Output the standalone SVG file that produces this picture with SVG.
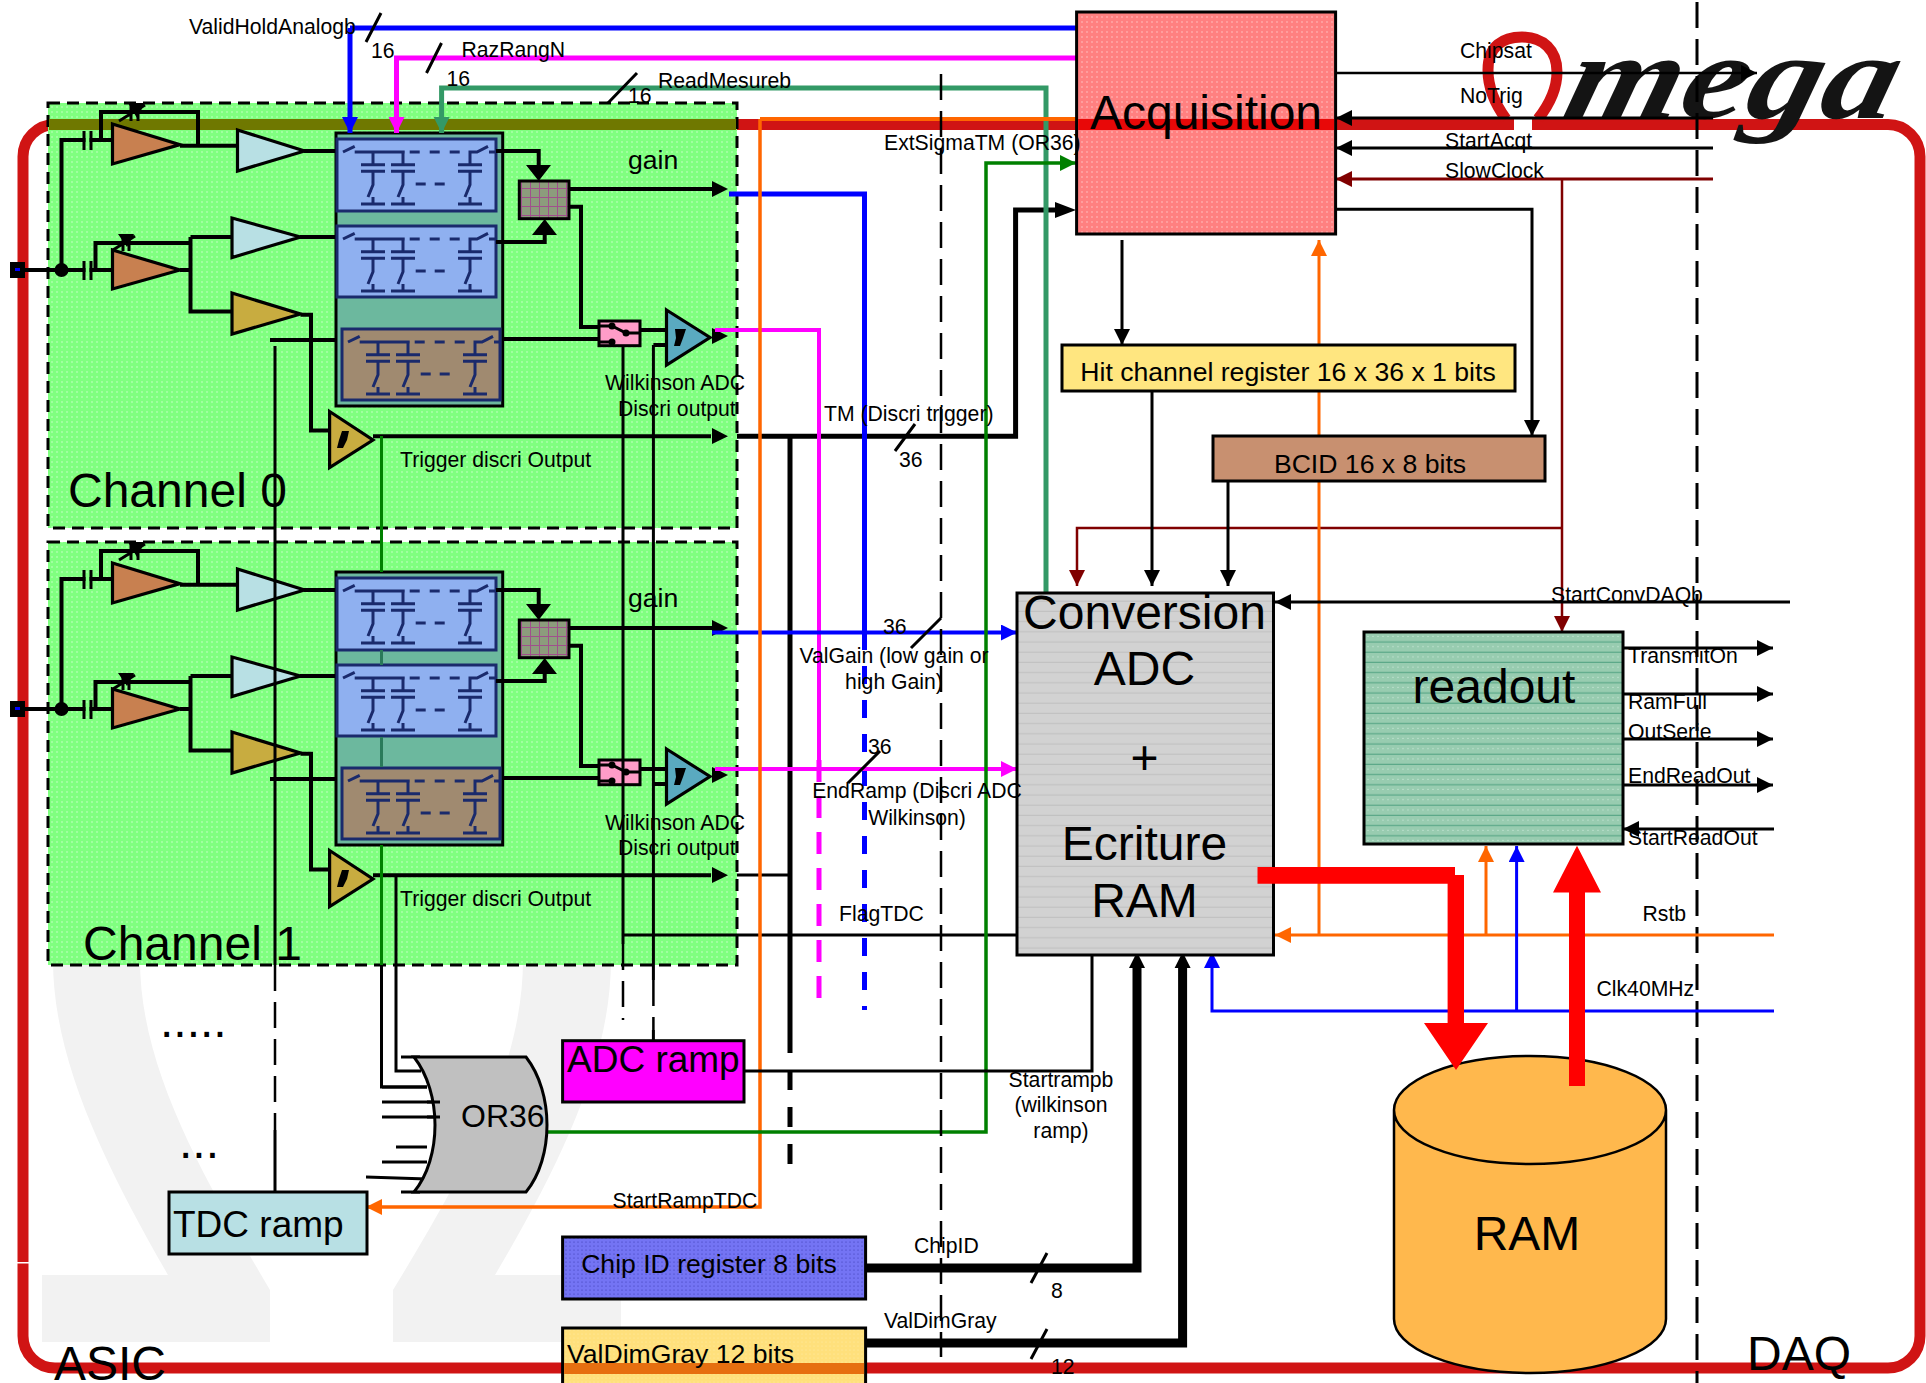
<svg xmlns="http://www.w3.org/2000/svg" xmlns:xlink="http://www.w3.org/1999/xlink" width="1926" height="1383" viewBox="0 0 1926 1383">
<style>
text{font-family:"Liberation Sans",Arial,sans-serif;fill:#000}
.s21{font-size:21.2px}.s26{font-size:26.6px}.s37{font-size:37px}.s48{font-size:48px}
.m{text-anchor:middle}
.w{fill:none;stroke:#000;stroke-width:4}
.t{fill:none;stroke:#000;stroke-width:2.5}
.sl{stroke:#000;stroke-width:3;fill:none}
.dash{fill:none;stroke:#000;stroke-width:3;stroke-dasharray:26 11}
.amp{stroke:#000;stroke-width:3.2;stroke-linejoin:miter}
.bx{stroke:#000;stroke-width:3}
.bank{fill:none;stroke:#1a2a6c;stroke-width:3}
</style>
<defs>
<pattern id="dg" width="5" height="5" patternUnits="userSpaceOnUse"><rect width="5" height="5" fill="#80ff80"/><circle cx="2" cy="2" r=".7" fill="#d8ffd8"/></pattern>
<pattern id="dp" width="5" height="5" patternUnits="userSpaceOnUse"><rect width="5" height="5" fill="#ff8080"/><circle cx="2" cy="2" r=".7" fill="#ffd0d0"/></pattern>
<pattern id="dv" width="4" height="4" patternUnits="userSpaceOnUse"><rect width="4" height="4" fill="#7474f4"/><circle cx="2" cy="2" r=".6" fill="#3838b0"/></pattern>
<pattern id="dy" width="4" height="4" patternUnits="userSpaceOnUse"><rect width="4" height="4" fill="#ffe07c"/><circle cx="2" cy="2" r=".5" fill="#ffefb0"/></pattern>
<pattern id="dr" width="10" height="10.2" patternUnits="userSpaceOnUse"><rect width="10" height="10.2" fill="#98ccb0"/><rect y="9" width="10" height="1.2" fill="#5aa888"/><circle cx="3" cy="4" r=".6" fill="#d8f0e4"/><circle cx="8" cy="4" r=".6" fill="#d8f0e4"/></pattern>
<pattern id="dc" width="10" height="10.2" patternUnits="userSpaceOnUse"><rect width="10" height="10.2" fill="#d2d2d2"/><rect y="9" width="10" height="1.2" fill="#c2c2c2"/></pattern>
<pattern id="gr" width="9" height="9" patternUnits="userSpaceOnUse"><rect width="9" height="9" fill="#8c9c7c"/><path d="M8.5 0V9M0 8.5H9" stroke="#a0508c" stroke-width="1"/></pattern>
<marker id="ak" viewBox="0 0 10 10" refX="10" refY="5" markerWidth="16" markerHeight="16" markerUnits="userSpaceOnUse" orient="auto"><path d="M0 0L10 5L0 10Z" fill="#000"/></marker>
<marker id="ab" viewBox="0 0 10 10" refX="10" refY="5" markerWidth="16" markerHeight="16" markerUnits="userSpaceOnUse" orient="auto"><path d="M0 0L10 5L0 10Z" fill="#0000ff"/></marker>
<marker id="am" viewBox="0 0 10 10" refX="10" refY="5" markerWidth="16" markerHeight="16" markerUnits="userSpaceOnUse" orient="auto"><path d="M0 0L10 5L0 10Z" fill="#ff00ff"/></marker>
<marker id="as" viewBox="0 0 10 10" refX="10" refY="5" markerWidth="16" markerHeight="16" markerUnits="userSpaceOnUse" orient="auto"><path d="M0 0L10 5L0 10Z" fill="#339966"/></marker>
<marker id="ag" viewBox="0 0 10 10" refX="10" refY="5" markerWidth="16" markerHeight="16" markerUnits="userSpaceOnUse" orient="auto"><path d="M0 0L10 5L0 10Z" fill="#008000"/></marker>
<marker id="ao" viewBox="0 0 10 10" refX="10" refY="5" markerWidth="16" markerHeight="16" markerUnits="userSpaceOnUse" orient="auto"><path d="M0 0L10 5L0 10Z" fill="#ff6600"/></marker>
<marker id="ad" viewBox="0 0 10 10" refX="10" refY="5" markerWidth="16" markerHeight="16" markerUnits="userSpaceOnUse" orient="auto"><path d="M0 0L10 5L0 10Z" fill="#800000"/></marker>
<g id="bank">
<path class="bank" d="M6 13L17.700 7.300M17.700 13H67.700M36 13V25.700M66 13V25.700M133 25.700V13H140L151 7.300M152 13H158"/>
<path class="bank" d="M72.700 13H125" stroke-dasharray="10 10"/>
<path class="bank" d="M24 25.700H48M24 32.300H48M54 25.700H78M54 32.300H78M121 25.700H145M121 32.300H145"/>
<path class="bank" d="M36 32.300V45.700L31 58M66 32.300V45.700L61 58M133 32.300V45.700L128 58M36 58V65M66 58V65M133 58V65M24 65H48M54 65H78M121 65H145"/>
<path class="bank" d="M78.700 45H109" stroke-dasharray="10 9"/>
</g>
<g id="chanCore">
<path class="w" d="M25 270H112M61.500 270V140H112M101 140V112H198V145.700M95.500 270V243H190.500M180 145.700H237.500M180 270H190.500M190.500 237V311.600H232M190.500 237H232"/>
<path d="M85.500 135H89.500V145H85.500ZM85.500 265H89.500V275H85.500Z" fill="#80ff80"/>
<g stroke="#000" stroke-width="3" fill="none"><path d="M84 131V150M91 131V150M84 261V280M91 261V280"/><path d="M131 105V121M138 105V121M119 121L145 105M123 236V251M129 236V251M113 250L135 236"/></g>
<path d="M128 103H145L137 118ZM118 234H134L127 247Z" fill="#000"/>
<polygon class="amp" points="112.500,124 180,144.600 112.500,164" fill="#c88050"/>
<polygon class="amp" points="112.500,250 180,270 112.500,289" fill="#c88050"/>
<polygon class="amp" points="237.500,130 304.500,151 237.500,171" fill="#b8e0e4"/>
<polygon class="amp" points="232,218 300.500,237 232,257.500" fill="#b8e0e4"/>
<polygon class="amp" points="232,293 300.500,314 232,334" fill="#c8ac40"/>
<path class="w" d="M300.500 314.700H311V430.500H329.600M304 151H336M300 237H336M270 340H337"/>
<rect class="bx" x="336" y="133" width="166.700" height="273" fill="#6cb89e"/>
<rect x="337" y="139" width="159" height="72" fill="#8fb0f0" stroke="#1a2a6c" stroke-width="3"/>
<rect x="337" y="226" width="159" height="71" fill="#8fb0f0" stroke="#1a2a6c" stroke-width="3"/>
<rect x="342" y="329" width="158" height="71" fill="#a08a70" stroke="#1a2a6c" stroke-width="3"/>
<use xlink:href="#bank" href="#bank" x="337" y="139"/>
<use xlink:href="#bank" href="#bank" x="337" y="226"/>
<use xlink:href="#bank" href="#bank" x="342" y="329"/>
<path class="w" d="M496 151H538.700V165M496 242H544.700V235M569 206.700H581V327H599M502 339H599M640 330H666.500M653.400 345H666.500M373 436.300H711"/>
<path d="M526 165L538.700 181L551 165ZM532 235L544.700 219L557 235Z" fill="#000"/>
<rect x="519.300" y="181" width="49.700" height="37.700" fill="url(#gr)" stroke="#000" stroke-width="3"/>
<path d="M569 189H712" class="w"/>
<path d="M712 181L728 189L712 197ZM712 428L728 436.300L712 444ZM712 328L728 336L712 344Z" fill="#000"/>
<polygon class="amp" points="329.600,411.500 373,440 329.600,467.600" fill="#c8ac40"/>
<path d="M342 431H349L347 440L343 448H337L339 440Z" fill="#000"/>
<rect x="599" y="321" width="41" height="24.700" fill="#ff9cc8" stroke="#000" stroke-width="3"/>
<path d="M600 326H612L626 333H640M600 342H612" fill="none" stroke="#000" stroke-width="3"/>
<circle cx="612" cy="326" r="3.500"/><circle cx="612" cy="342" r="3.500"/><circle cx="626" cy="333" r="3.500"/>
<polygon class="amp" points="666.500,310 710,337.500 666.500,365" fill="#5aaac0"/>
<path d="M675 329H686L683 338L680 346H674L676 338Z" fill="#000"/>
<circle cx="61.500" cy="270" r="7" fill="#000"/>
<rect x="10" y="262" width="15" height="16" fill="#000"/><rect x="15" y="268" width="5" height="3" fill="#0000ff"/>
</g>
</defs>
<rect width="1926" height="1383" fill="#fff"/>
<g id="background">
<path d="M42 1275H168C105 1165 53 1060 53 960C53 780 170 640 332 640C494 640 611 780 611 960C611 1060 560 1165 495 1275H621V1342H393V1290C460 1180 523 1070 523 960C523 830 450 720 332 720C214 720 140 830 140 960C140 1070 205 1180 270 1290V1342H42Z" fill="#f2f2f2"/>
<rect x="23" y="124.500" width="1897" height="1243.500" rx="32" fill="none" stroke="#d01414" stroke-width="11"/>
<rect x="1514" y="117" width="18" height="15" fill="#fff"/>
<rect x="16" y="1262" width="13" height="1.500" fill="#fff"/>
<path d="M1506 119C1492 100 1488 85 1488 70C1488 46 1503 37 1522 37C1543 37 1557 50 1557 72C1557 90 1549 105 1538 119" fill="none" stroke="#d01414" stroke-width="11"/>
<text transform="translate(1560 118) skewX(-14)" x="0" y="0" font-size="122" font-weight="bold" font-style="italic" textLength="330" lengthAdjust="spacingAndGlyphs" style="font-family:'Liberation Serif',serif;fill:#141414">mega</text>
</g>
<g id="channel0">
<rect x="48" y="103" width="689" height="425" fill="url(#dg)" stroke="#000" stroke-width="3" stroke-dasharray="12 7"/>
<rect x="49" y="119" width="687" height="11" fill="#6f7800"/>
<use xlink:href="#chanCore" href="#chanCore"/>
<text class="s26" x="628" y="169">gain</text>
<text class="s21" x="605" y="390">Wilkinson ADC</text>
<text class="s21" x="618" y="415.500">Discri output</text>
<text class="s21" x="400" y="466.500">Trigger discri Output</text>
<text class="s48" x="68" y="507">Channel 0</text>
</g>
<g id="channel1">
<rect x="48" y="542" width="689" height="423" fill="url(#dg)" stroke="#000" stroke-width="3" stroke-dasharray="12 7"/>
<use xlink:href="#chanCore" href="#chanCore" y="439"/>
<text class="s26" x="628" y="607">gain</text>
<text class="s21" x="605" y="830">Wilkinson ADC</text>
<text class="s21" x="618" y="855">Discri output</text>
<text class="s21" x="400" y="906">Trigger discri Output</text>
<text class="s48" x="83" y="960">Channel 1</text>
</g>
<g id="connectors">
<path d="M381.500 436V572M381.500 845V965" fill="none" stroke="#008000" stroke-width="3"/>
<path d="M381.500 650V665M381.500 737V767" fill="none" stroke="#2a7a5a" stroke-width="3"/>
<path class="t" style="stroke-width:3" d="M381.500 965V1087H427M396 875V1071H421"/>
<path class="sl" d="M275 346V965M623 345V944M653.400 345V980M623 935H1017M737 875H790"/>
<path class="dash" style="stroke-width:2.500" d="M275 965V1130M623 944V1020M653.400 980V1030"/>
<path class="sl" d="M275 1130V1192M653.400 1030V1041"/>
<path d="M737 436.300H1015.600V210H1060" fill="none" stroke="#000" stroke-width="5"/>
<path d="M1055 202L1076 210L1055 218Z" fill="#000"/>
<path d="M790 436V1053" fill="none" stroke="#000" stroke-width="5"/>
<path d="M790 1070V1165" fill="none" stroke="#000" stroke-width="5" stroke-dasharray="20 17"/>
<path d="M350 28H1076M350 28V133" fill="none" stroke="#0000ff" stroke-width="5" marker-end="url(#ab)"/>
<path d="M1076 58H396.500V133" fill="none" stroke="#ff00ff" stroke-width="5" marker-end="url(#am)"/>
<path d="M1046 593V88H441.600V133" fill="none" stroke="#339966" stroke-width="5" marker-end="url(#as)"/>
<path d="M729 194H864.500V632" fill="none" stroke="#0000ff" stroke-width="5"/>
<path d="M864.500 632V1010" fill="none" stroke="#0000ff" stroke-width="5" stroke-dasharray="18 16"/>
<path d="M715 330H819V760" fill="none" stroke="#ff00ff" stroke-width="4"/>
<path d="M819 760V1010" fill="none" stroke="#ff00ff" stroke-width="5" stroke-dasharray="22 14"/>
<path d="M712 632.500H1017" fill="none" stroke="#0000ff" stroke-width="4" marker-end="url(#ab)"/>
<path d="M715 769H1017" fill="none" stroke="#ff00ff" stroke-width="4" marker-end="url(#am)"/>
<path d="M760 119H1076" fill="none" stroke="#ff6600" stroke-width="4"/>
<path d="M760 119V1207H366" fill="none" stroke="#ff6600" stroke-width="3.500" marker-end="url(#ao)"/>
<path d="M547 1132H986V163H1076" fill="none" stroke="#008000" stroke-width="3.500" marker-end="url(#ag)"/>
<path class="dash" style="stroke-width:2.500" d="M941 74V1357"/>
<path class="dash" d="M1697 2V1383"/>
<path d="M1336 73H1757" class="t" marker-end="url(#ak)"/>
<path d="M1713 118H1336" class="sl" marker-end="url(#ak)"/>
<path d="M1713 148H1336" class="sl" marker-end="url(#ak)"/>
<path d="M1713 179H1336" fill="none" stroke="#800000" stroke-width="3" marker-end="url(#ad)"/>
<path d="M1562 179V632" fill="none" stroke="#800000" stroke-width="2.500" marker-end="url(#ad)"/>
<path d="M1562 528H1077V586" fill="none" stroke="#800000" stroke-width="2.500" marker-end="url(#ad)"/>
<path d="M1336 209.300H1532V436" class="sl" marker-end="url(#ak)"/>
<path d="M1122 240V345" class="sl" marker-end="url(#ak)"/>
<path d="M1152 391V586" class="sl" marker-end="url(#ak)"/>
<path d="M1228 481V586" class="sl" marker-end="url(#ak)"/>
<path d="M1319 935V240" fill="none" stroke="#ff6600" stroke-width="3" marker-end="url(#ao)"/>
<path d="M1774 935H1275" fill="none" stroke="#ff6600" stroke-width="3" marker-end="url(#ao)"/>
<path d="M1486 935V846" fill="none" stroke="#ff6600" stroke-width="3" marker-end="url(#ao)"/>
<path d="M1774 1011H1212V952" fill="none" stroke="#0000ff" stroke-width="3" marker-end="url(#ab)"/>
<path d="M1516.600 1011V846" fill="none" stroke="#0000ff" stroke-width="3" marker-end="url(#ab)"/>
<path d="M1790 602H1275" class="sl" marker-end="url(#ak)"/>
<path d="M1623 648H1773" class="sl" marker-end="url(#ak)"/>
<path d="M1623 694H1773" class="sl" marker-end="url(#ak)"/>
<path d="M1623 739H1773" class="sl" marker-end="url(#ak)"/>
<path d="M1623 785H1773" class="sl" marker-end="url(#ak)"/>
<path d="M1774 829H1623" class="sl" marker-end="url(#ak)"/>
<path d="M744 1071H1092V955" class="sl"/>
<path d="M866 1268H1137V968" fill="none" stroke="#000" stroke-width="9"/>
<path d="M866 1343H1182.600V968" fill="none" stroke="#000" stroke-width="9"/>
<path d="M1129 968L1137 952L1145 968ZM1174.600 968L1182.600 952L1190.600 968Z" fill="#000"/>
<g class="sl">
<path d="M366 42L381 13M426.500 73L441.500 43M608 103L637 73M915 424L895 451M941 618L911 648M880 751L848 783M1047 1253L1031 1283M1047 1329L1031 1359"/>
</g>
</g>
<g id="acquisition">
<rect class="bx" x="1076.600" y="12" width="259" height="222" fill="url(#dp)"/>
<rect x="1078.100" y="119" width="256" height="11" fill="#e80808"/>
<text class="s48 m" x="1206" y="129">Acquisition</text>
</g>
<g id="hit-register">
<rect class="bx" x="1062" y="345" width="453" height="46" fill="#ffe680"/>
<text class="s26 m" x="1288" y="381">Hit channel register 16 x 36 x 1 bits</text>
</g>
<g id="bcid">
<rect class="bx" x="1213" y="436" width="332" height="45" fill="#c89070"/>
<text class="s26 m" x="1370" y="473">BCID 16 x 8 bits</text>
</g>
<g id="conversion">
<rect class="bx" x="1017" y="593" width="256.500" height="362" fill="url(#dc)"/>
<text class="s48 m" x="1144.500" y="629">Conversion</text>
<text class="s48 m" x="1144.500" y="685">ADC</text>
<text class="s48 m" x="1144.500" y="774">+</text>
<text class="s48 m" x="1144.500" y="860">Ecriture</text>
<text class="s48 m" x="1144.500" y="917">RAM</text>
</g>
<g id="readout">
<rect class="bx" x="1364" y="632" width="259" height="212" fill="url(#dr)"/>
<text class="s48 m" x="1494" y="703">readout</text>
</g>
<g id="ram">
<path d="M1394 1110V1319A136 54 0 0 0 1666 1319V1110A136 54 0 0 0 1394 1110A136 54 0 0 0 1666 1110" fill="#ffb84d" stroke="#000" stroke-width="2.500"/>
<text class="s48 m" x="1527" y="1250">RAM</text>
</g>
<g id="ram-buses">
<path d="M1257.500 867H1455V875H1464V1023H1488L1456 1070L1424 1023H1447.600V883.700H1257.500Z" fill="#ff0000"/>
<path d="M1569 1086V892.600H1553L1577 845.700L1601 892.600H1585V1086Z" fill="#ff0000"/>
</g>
<g id="adc-ramp">
<rect class="bx" x="562.600" y="1040.700" width="181.400" height="61.300" fill="#ff00ff"/>
<text class="s37" x="567" y="1072">ADC ramp</text>
</g>
<g id="or36">
<path class="t" style="stroke-width:3" d="M382 1087H427M382 1102H440M382 1117H440M396 1147H427M382 1162H427M366 1177L427 1179M401 1057H420M401 1192H420"/>
<path d="M414 1057H526C540 1075 547 1100 547 1125C547 1150 540 1175 526 1192H414C428 1175 435 1150 435 1125C435 1100 428 1075 414 1057Z" fill="#c0c0c0" stroke="#000" stroke-width="3"/>
<path class="t" style="stroke-width:3" d="M427 1102H440M427 1117H440"/>
<text x="461" y="1127" font-size="32">OR36</text>
</g>
<g id="tdc-ramp">
<rect class="bx" x="169" y="1192" width="198" height="62" fill="#b8e0e4"/>
<text class="s37" x="173" y="1237">TDC ramp</text>
</g>
<g id="chip-id">
<rect class="bx" x="562.600" y="1237" width="303" height="62" fill="url(#dv)"/>
<text class="s26 m" x="709" y="1273">Chip ID register 8 bits</text>
</g>
<g id="val-dim-gray">
<rect class="bx" x="562.600" y="1328" width="303" height="70" fill="url(#dy)"/>
<rect x="564.100" y="1363" width="300" height="11" fill="#e66f10"/>
<text class="s26" x="567" y="1363">ValDimGray 12 bits</text>
</g>
<g id="labels">
<text class="s21" x="189" y="34">ValidHoldAnalogb</text>
<text class="s21" x="461.500" y="57">RazRangN</text>
<text class="s21" x="658" y="88">ReadMesureb</text>
<text class="s21" x="371" y="58">16</text>
<text class="s21" x="446.500" y="86">16</text>
<text class="s21" x="628" y="102.500">16</text>
<text class="s21" x="884" y="150">ExtSigmaTM (OR36)</text>
<text class="s21" x="824" y="421">TM (Discri trigger)</text>
<text class="s21" x="899" y="467">36</text>
<text class="s21" x="883" y="634">36</text>
<text class="s21 m" x="894" y="663">ValGain (low gain or</text>
<text class="s21 m" x="894" y="689">high Gain)</text>
<text class="s21" x="868" y="754">36</text>
<text class="s21 m" x="917" y="798">EndRamp (Discri ADC</text>
<text class="s21 m" x="917" y="825">Wilkinson)</text>
<text class="s21" x="839" y="921">FlagTDC</text>
<text class="s21" x="612.500" y="1207.500">StartRampTDC</text>
<text class="s21 m" x="1061" y="1087">Startrampb</text>
<text class="s21 m" x="1061" y="1112">(wilkinson</text>
<text class="s21 m" x="1061" y="1138">ramp)</text>
<text class="s21" x="914" y="1253">ChipID</text>
<text class="s21" x="884" y="1328">ValDimGray</text>
<text class="s21" x="1051" y="1298">8</text>
<text class="s21" x="1051" y="1374">12</text>
<text class="s21" x="1460" y="58">Chipsat</text>
<text class="s21" x="1460" y="103">NoTrig</text>
<text class="s21" x="1445" y="147.500">StartAcqt</text>
<text class="s21" x="1445" y="178">SlowClock</text>
<text class="s21" x="1551" y="602">StartConvDAQb</text>
<text class="s21" x="1628" y="663">TransmitOn</text>
<text class="s21" x="1628" y="709">RamFull</text>
<text class="s21" x="1628" y="739">OutSerie</text>
<text class="s21" x="1628" y="783">EndReadOut</text>
<text class="s21" x="1628" y="845">StartReadOut</text>
<text class="s21" x="1642.500" y="921">Rstb</text>
<text class="s21" x="1596.500" y="996">Clk40MHz</text>
<text class="s48" x="160" y="1037">.....</text>
<text class="s48" x="179" y="1158">...</text>
<text class="s48" x="54" y="1380">ASIC</text>
<text class="s48" x="1747" y="1370">DAQ</text>
</g>
</svg>
